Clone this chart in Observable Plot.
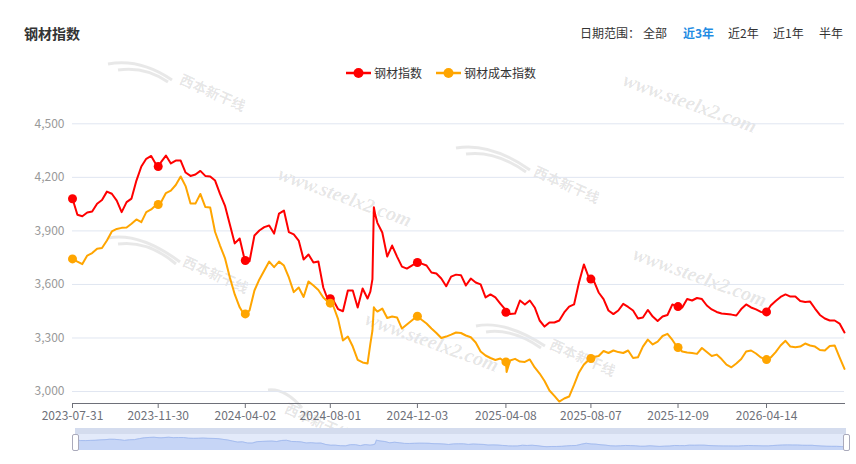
<!DOCTYPE html>
<html><head><meta charset="utf-8">
<script src="https://cdn.jsdelivr.net/npm/d3@7"></script>
<script src="https://cdn.jsdelivr.net/npm/@observablehq/plot@0.6"></script>
<style>
body{margin:0;background:#fff;font-family:"Microsoft YaHei","Noto Sans CJK SC",sans-serif;}
#wrap{position:relative;width:856px;height:464px;overflow:hidden;background:#fff;}
.abs{position:absolute;white-space:nowrap;line-height:1;}
.wm{position:absolute;white-space:nowrap;color:rgba(0,0,0,0.11);font:italic bold 20px "Liberation Serif","DejaVu Serif",serif;transform:translate(-50%,-50%) rotate(20deg);}
.wm2{position:absolute;white-space:nowrap;color:rgba(0,0,0,0.11);font:bold 14px "Noto Sans CJK SC",sans-serif;transform:translate(-50%,-50%) rotate(24deg);}
#title{left:24px;top:26px;font-size:14px;font-weight:bold;color:#333;}
#range{left:0;top:27px;font-size:12px;color:#333;}
#chart{position:absolute;left:0;top:100px;}
#legend{top:66px;left:0;font-size:12px;color:#333;}
#dz{position:absolute;left:75px;top:428px;width:771px;}
#dzTop{height:6px;background:#d4dcee;}
.handle{position:absolute;top:6px;width:5px;height:15px;background:#fff;border:1px solid #aab;border-radius:2px;}
#logos{position:absolute;left:0;top:0;}
</style></head><body>
<div id="wrap">
  <svg id="logos" width="856" height="464">
    <g fill="none" stroke="rgba(0,0,0,0.09)" stroke-width="3">
      <path d="M108,64 Q140,58 172,80 M118,70 Q145,66 168,82"/>
      <path d="M108,238 Q140,232 180,262 M118,244 Q148,240 176,264"/>
      <path d="M456,148 Q490,142 530,170 M466,154 Q495,150 526,172"/>
      <path d="M476,326 Q505,320 545,346 M486,332 Q512,328 541,348"/>
      <path d="M268,390 Q285,388 302,408"/>
    </g>
  </svg>
  <div class="wm" style="left:690px;top:103px">www.steelx2.com</div>
  <div class="wm" style="left:345px;top:197px">www.steelx2.com</div>
  <div class="wm" style="left:700px;top:277px">www.steelx2.com</div>
  <div class="wm" style="left:432px;top:342px">www.steelx2.com</div>
  <div class="wm2" style="left:213px;top:92px">西本新干线</div>
  <div class="wm2" style="left:216px;top:274px">西本新干线</div>
  <div class="wm2" style="left:567px;top:184px">西本新干线</div>
  <div class="wm2" style="left:583px;top:357px">西本新干线</div>
  <div class="wm2" style="left:318px;top:421px">西本新干线</div>
  <div id="chart"></div>
  <div id="title" class="abs">钢材指数</div>
  <div id="range" class="abs"></div>
  <div id="legend" class="abs"></div>
  <div id="dz"><div id="dzTop"></div><div id="dzBody"></div></div>
</div>
<script>
const dates = ["2023-07-31","2023-08-07","2023-08-14","2023-08-21","2023-08-28","2023-09-04","2023-09-11","2023-09-18","2023-09-25","2023-10-02","2023-10-09","2023-10-16","2023-10-23","2023-10-30","2023-11-06","2023-11-13","2023-11-20","2023-11-27","2023-11-30","2023-12-04","2023-12-11","2023-12-18","2023-12-25","2024-01-01","2024-01-08","2024-01-15","2024-01-22","2024-01-29","2024-02-05","2024-02-12","2024-02-19","2024-02-26","2024-03-04","2024-03-11","2024-03-18","2024-03-25","2024-04-01","2024-04-02","2024-04-08","2024-04-15","2024-04-22","2024-04-29","2024-05-06","2024-05-13","2024-05-20","2024-05-27","2024-06-03","2024-06-10","2024-06-17","2024-06-24","2024-07-01","2024-07-08","2024-07-15","2024-07-22","2024-07-29","2024-08-01","2024-08-05","2024-08-12","2024-08-19","2024-08-26","2024-09-02","2024-09-09","2024-09-16","2024-09-23","2024-09-27","2024-09-30","2024-10-02","2024-10-04","2024-10-07","2024-10-14","2024-10-21","2024-10-28","2024-11-04","2024-11-11","2024-11-18","2024-11-25","2024-12-02","2024-12-03","2024-12-09","2024-12-16","2024-12-23","2024-12-30","2025-01-06","2025-01-13","2025-01-20","2025-01-27","2025-02-03","2025-02-10","2025-02-17","2025-02-24","2025-03-03","2025-03-10","2025-03-17","2025-03-24","2025-03-31","2025-04-07","2025-04-08","2025-04-09","2025-04-14","2025-04-21","2025-04-28","2025-05-05","2025-05-12","2025-05-19","2025-05-26","2025-06-02","2025-06-09","2025-06-16","2025-06-23","2025-06-30","2025-07-07","2025-07-14","2025-07-21","2025-07-28","2025-08-04","2025-08-07","2025-08-11","2025-08-18","2025-08-25","2025-09-01","2025-09-08","2025-09-15","2025-09-22","2025-09-29","2025-10-06","2025-10-13","2025-10-20","2025-10-27","2025-11-03","2025-11-10","2025-11-17","2025-11-24","2025-12-01","2025-12-08","2025-12-09","2025-12-15","2025-12-22","2025-12-29","2026-01-05","2026-01-12","2026-01-19","2026-01-26","2026-02-02","2026-02-09","2026-02-16","2026-02-23","2026-03-02","2026-03-09","2026-03-16","2026-03-23","2026-03-30","2026-04-06","2026-04-13","2026-04-14","2026-04-20","2026-04-27","2026-05-04","2026-05-11","2026-05-18","2026-05-25","2026-06-01","2026-06-08","2026-06-15","2026-06-22","2026-06-29","2026-07-06","2026-07-13","2026-07-20","2026-07-27","2026-08-03"];

const steelIndex = [4080,3990,3982,4003,4009,4052,4073,4120,4108,4070,4005,4061,4081,4182,4261,4304,4320,4272,4261,4285,4322,4278,4294,4294,4227,4208,4216,4236,4208,4205,4182,4107,4042,3936,3830,3857,3740,3734,3730,3874,3902,3921,3930,3885,3997,4014,3893,3880,3846,3740,3768,3723,3729,3583,3510,3520,3513,3462,3450,3566,3566,3471,3577,3521,3560,3630,4033,3990,3945,3891,3756,3818,3756,3700,3689,3706,3723,3723,3717,3706,3667,3661,3633,3590,3644,3655,3652,3594,3633,3611,3600,3527,3544,3527,3493,3460,3444,3440,3434,3437,3510,3488,3510,3471,3398,3364,3387,3387,3398,3443,3476,3488,3611,3712,3639,3630,3622,3555,3518,3454,3434,3454,3491,3474,3454,3409,3415,3457,3420,3395,3420,3429,3488,3476,3476,3471,3518,3510,3524,3518,3482,3460,3446,3437,3435,3431,3426,3462,3488,3471,3460,3446,3444,3446,3482,3507,3530,3544,3532,3532,3507,3502,3504,3465,3429,3409,3398,3398,3381,3331];

const costIndex = [3743,3728,3714,3762,3776,3800,3804,3846,3897,3911,3917,3919,3940,3964,3949,4005,4020,4045,4048,4061,4112,4126,4157,4205,4151,4053,4053,4107,4034,4031,3894,3818,3748,3639,3544,3472,3426,3435,3454,3566,3628,3678,3728,3697,3728,3706,3639,3557,3583,3530,3617,3594,3569,3527,3502,3495,3482,3407,3286,3308,3252,3177,3163,3157,3267,3342,3472,3460,3448,3465,3412,3420,3415,3353,3376,3398,3420,3422,3402,3381,3353,3328,3300,3308,3319,3331,3328,3314,3304,3275,3224,3202,3188,3177,3185,3165,3166,3110,3174,3183,3168,3166,3180,3135,3101,3059,3006,2976,2944,2961,2972,3037,3107,3151,3177,3185,3193,3199,3227,3216,3230,3221,3216,3230,3188,3192,3252,3291,3264,3280,3311,3323,3289,3248,3247,3224,3219,3216,3211,3244,3221,3199,3207,3182,3151,3136,3157,3182,3224,3230,3213,3191,3178,3179,3191,3221,3258,3284,3252,3248,3252,3269,3258,3252,3233,3230,3255,3258,3191,3127];

const tickDates = ["2023-07-31","2023-11-30","2024-04-02","2024-08-01","2024-12-03","2025-04-08","2025-08-07","2025-12-09","2026-04-14"];
const yTicks = [3000,3300,3600,3900,4200,4500];
const yMin = 2933;
const seriesNames = ["钢材指数","钢材成本指数"];
const seriesColors = ["#ff0000","#ffa500"];
const rangeTitle = "日期范围：";
const rangeLabels = ["全部","近3年","近2年","近1年","半年"];
const activeRange = "近3年";

const parse = d3.utcParse("%Y-%m-%d");
const fmt = d3.utcFormat("%Y-%m-%d");
const rows = dates.map((d,i)=>({key:d, date:parse(d), steel:steelIndex[i], cost:costIndex[i]}));
const tickSet = new Set(tickDates);
const dotRows = rows.filter(r=>tickSet.has(r.key));
const xDomain = [rows[0].date, rows[rows.length-1].date];
const font = '"Microsoft YaHei","Noto Sans CJK SC",sans-serif';

const chart = Plot.plot({
  width:856, height:325,
  marginTop:23.3, marginBottom:22, marginLeft:72, marginRight:12,
  style:{fontFamily:font, fontSize:"12px", background:"transparent", overflow:"visible"},
  x:{type:"utc", domain:xDomain},
  y:{domain:[yMin,4500]},
  marks:[
    Plot.gridY(yTicks,{stroke:"#e0e6f1", strokeOpacity:1}),
    Plot.axisY(yTicks,{tickSize:0, tickPadding:8, fill:"#999", tickFormat:d3.format(","), label:null}),
    Plot.axisX(tickDates.map(parse),{tickSize:5, tickPadding:3, stroke:"#6e7079", fill:"#6e7079", tickFormat:fmt, label:null}),
    Plot.frame({anchor:"bottom", stroke:"#6e7079"}),
    Plot.line(rows,{x:"date", y:"steel", stroke:seriesColors[0], strokeWidth:2}),
    Plot.dot(dotRows,{x:"date", y:"steel", r:4.5, fill:seriesColors[0]}),
    Plot.line(rows,{x:"date", y:"cost", stroke:seriesColors[1], strokeWidth:2}),
    Plot.dot(dotRows,{x:"date", y:"cost", r:4.5, fill:seriesColors[1]})
  ]
});
document.getElementById("chart").appendChild(chart);

// range selector (each label placed like the reference)
const range = document.getElementById("range");
const rangeLeft = [580, 643, 683, 728, 773, 819];
[rangeTitle, ...rangeLabels].forEach((t,i)=>{
  const s = document.createElement("span");
  s.className = "abs";
  s.textContent = t;
  s.style.left = rangeLeft[i] + "px";
  s.style.top = "0px";
  if (t===activeRange){ s.style.color="#1f8ce3"; s.style.fontWeight="bold"; }
  range.appendChild(s);
});

// legend
const legend = document.getElementById("legend");
const legendX = [346, 436];
seriesNames.forEach((name,i)=>{
  const item = document.createElement("div");
  item.className = "abs";
  item.style.left = legendX[i] + "px";
  item.style.top = "0px";
  item.style.display = "flex";
  item.style.alignItems = "center";
  item.innerHTML = `<svg width="25" height="14" style="margin-right:3px"><line x1="0" x2="25" y1="7" y2="7" stroke="${seriesColors[i]}" stroke-width="2.5"/><circle cx="12.5" cy="7" r="5" fill="${seriesColors[i]}"/></svg><span>${name}</span>`;
  legend.appendChild(item);
});

// data zoom slider
const miniMin = 2980;
const mini = Plot.plot({
  width:771, height:16, margin:0,
  style:{background:"#e3eafa", display:"block"},
  x:{type:"utc", domain:xDomain, axis:null},
  y:{domain:[miniMin,4600], axis:null},
  marks:[
    Plot.areaY(rows,{x:"date", y1:miniMin, y2:"steel", fill:"#c6d5f6", clip:true}),
    Plot.line(rows,{x:"date", y:"steel", stroke:"#a6bdef", strokeWidth:1})
  ]
});
document.getElementById("dzBody").appendChild(mini);
const dz = document.getElementById("dz");
["-3px","768px"].forEach(l=>{
  const h = document.createElement("div");
  h.className="handle"; h.style.left=l; dz.appendChild(h);
});
</script>
</body></html>
